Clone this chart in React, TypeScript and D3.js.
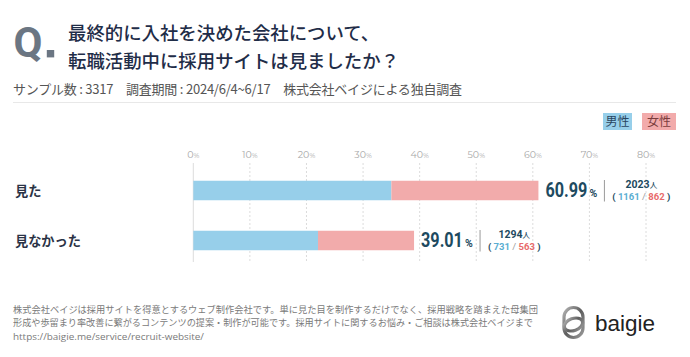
import React from "react";
import * as d3 from "d3";

const categories = ["見た", "見なかった"];
const maleCounts = [1161, 731];
const femaleCounts = [862, 563];
const totalCounts = [2023, 1294];
const percentLabels = ["60.99", "39.01"];
const sampleSize = 3317;
const tickValues = [0, 10, 20, 30, 40, 50, 60, 70, 80];
const legendLabels = ["男性", "女性"];

const W = 690;
const H = 357;
const BLUE = "#97cfea";
const PINK = "#f2abab";
const TEAL = "#1d4a60";
const JP = "'Noto Sans CJK JP', 'Noto Sans', sans-serif";
const NUM = "Roboto, 'Noto Sans', sans-serif";

export default function App() {
  const x = d3.scaleLinear().domain([0, 80]).range([193.3, 646]);
  const y = d3.scalePoint<string>().domain(categories).range([190.5, 240.5]);
  const barH = 19.5;

  const footer1 = "株式会社ベイジは採用サイトを得意とするウェブ制作会社です。単に見た目を制作するだけでなく、採用戦略を踏まえた母集団";
  const footer2 = "形成や歩留まり率改善に繋がるコンテンツの提案・制作が可能です。採用サイトに関するお悩み・ご相談は株式会社ベイジまで";
  const footer3 = "https://baigie.me/service/recruit-website/";

  return (
    <svg
      width={W}
      height={H}
      viewBox={`0 0 ${W} ${H}`}
      style={{ position: "absolute", left: 0, top: 0, background: "#fff" }}
    >
      <rect x={0} y={0} width={W} height={H} fill="#fff" />
      {/* Header */}
      <text x={13.5} y={56.5} fontFamily={NUM} fontWeight={700} fontSize={42} fill="#6b7683">
        Q
      </text>
      <rect x={46.8} y={50} width={7.4} height={7.4} fill="#6b7683" />
      <text x={68} y={40} fontFamily={JP} fontWeight={500} fontSize={18.4} fill="#1f2d48">
        最終的に入社を決めた会社について、
      </text>
      <text x={68} y={68} fontFamily={JP} fontWeight={500} fontSize={18.4} fill="#1f2d48">
        転職活動中に採用サイトは見ましたか？
      </text>
      <text x={13} y={93.5} fontFamily={JP} fontSize={13} fill="#555" textLength={449} lengthAdjust="spacing">
        {`サンプル数 : ${sampleSize}　調査期間 : 2024/6/4~6/17　株式会社ベイジによる独自調査`}
      </text>
      <line x1={13} x2={676} y1={102.5} y2={102.5} stroke="#e8e8e8" strokeWidth={1} />

      {/* Legend */}
      {legendLabels.map((l, i) => {
        const lx = i === 0 ? 603 : 642;
        const w = i === 0 ? 29 : 34;
        return (
          <g key={l}>
            <rect x={lx} y={113} width={w} height={17} fill={i === 0 ? BLUE : PINK} />
            <text
              x={lx + w / 2}
              y={126}
              textAnchor="middle"
              fontFamily={JP}
              fontSize={12}
              fill={i === 0 ? "#2a4560" : "#7a3d3d"}
            >
              {l}
            </text>
          </g>
        );
      })}

      {/* Axis ticks & grid */}
      {tickValues.map((t) => (
        <g key={t}>
          <text x={x(t)} y={157.5} textAnchor="middle" fontFamily="Montserrat, 'Noto Sans', sans-serif" fontSize={9.5} fill="#a9a9a9">
            {t}
            <tspan fontSize={7}>%</tspan>
          </text>
          <line
            x1={x(t)}
            x2={x(t)}
            y1={163}
            y2={262}
            stroke="#dcdcdc"
            strokeWidth={1}
            strokeDasharray={t === 0 ? undefined : "2,2"}
          />
        </g>
      ))}

      {/* Bars */}
      {categories.map((c, i) => {
        const cy = y(c)!;
        const malePct = (maleCounts[i] / sampleSize) * 100;
        const femalePct = (femaleCounts[i] / sampleSize) * 100;
        const x0 = x(0);
        const xm = x(malePct);
        const xe = x(malePct + femalePct);
        const numX = xe + 7;
        const pctX = numX + 44;
        const divX = numX + 59;
        const innerLen = 3 + `${maleCounts[i]}`.length * 5.4 + 5 + `${femaleCounts[i]}`.length * 5.4;
        const parenW = innerLen + 16;
        const cx = divX + 6 + parenW / 2;
        return (
          <g key={c}>
            <text x={15} y={cy + 5} fontFamily={JP} fontWeight={700} fontSize={13.2} fill="#2b3346">
              {c}
            </text>
            <rect x={x0} y={cy - barH / 2} width={xm - x0} height={barH} fill={BLUE} />
            <rect x={xm} y={cy - barH / 2} width={xe - xm} height={barH} fill={PINK} />
            <text
              transform={`translate(${numX},${cy + 6}) scale(0.81,1)`}
              fontFamily={NUM}
              fontWeight={700}
              fontSize={20}
              fill={TEAL}
            >
              {percentLabels[i]}
            </text>
            <text x={pctX} y={cy + 6} fontFamily={NUM} fontWeight={700} fontSize={10.5} fill={TEAL}>
              %
            </text>
            <line x1={divX} x2={divX} y1={cy - 10.5} y2={cy + 11} stroke="#9a9a9a" strokeWidth={1} />
            <text x={cx} y={cy - 2.3} textAnchor="middle" fontFamily={NUM} fontWeight={700} fontSize={10.5} fill={TEAL}>
              {totalCounts[i]}
              <tspan fontFamily={JP} fontSize={7.5} fontWeight={500}>人</tspan>
            </text>
            <text x={cx} y={cy + 9.5} textAnchor="middle" fontFamily={NUM} fontWeight={700} fontSize={9.5} fill={TEAL}>
              {"( "}
              <tspan fill="#5aaed2">{maleCounts[i]}</tspan>
              <tspan fill="#9a9a9a" fontWeight={400}>{" / "}</tspan>
              <tspan fill="#e86b6b">{femaleCounts[i]}</tspan>
              {" )"}
            </text>
          </g>
        );
      })}

      {/* Footer */}
      <text x={13} y={312.5} fontFamily={JP} fontSize={9.3} fill="#7a7a7a" textLength={525} lengthAdjust="spacingAndGlyphs">
        {footer1}
      </text>
      <text x={13} y={326} fontFamily={JP} fontSize={9.3} fill="#7a7a7a" textLength={520} lengthAdjust="spacingAndGlyphs">
        {footer2}
      </text>
      <text x={13} y={339.5} fontFamily="'Open Sans', 'Noto Sans', sans-serif" fontSize={9.5} fill="#7a7a7a" textLength={191} lengthAdjust="spacingAndGlyphs">
        {footer3}
      </text>

      {/* Logo */}
      <defs>
        <linearGradient id="ringGrad" x1="0" y1="0" x2="1" y2="1">
          <stop offset="0%" stopColor="#b5b5b5" />
          <stop offset="50%" stopColor="#5e5e5e" />
          <stop offset="100%" stopColor="#9a9a9a" />
        </linearGradient>
      </defs>
      <rect x={564} y={307.5} width={19} height={30} rx={9.5} ry={9.5} fill="none" stroke="url(#ringGrad)" strokeWidth={3.2} />
      <ellipse cx={573.5} cy={324.5} rx={9.5} ry={6} transform="rotate(-20 573.5 324.5)" fill="none" stroke="url(#ringGrad)" strokeWidth={3.2} />
      <text x={595} y={331} fontFamily="'Liberation Sans', Arial, sans-serif" fontSize={22.5} fill="#222">
        baigie
      </text>
    </svg>
  );
}
